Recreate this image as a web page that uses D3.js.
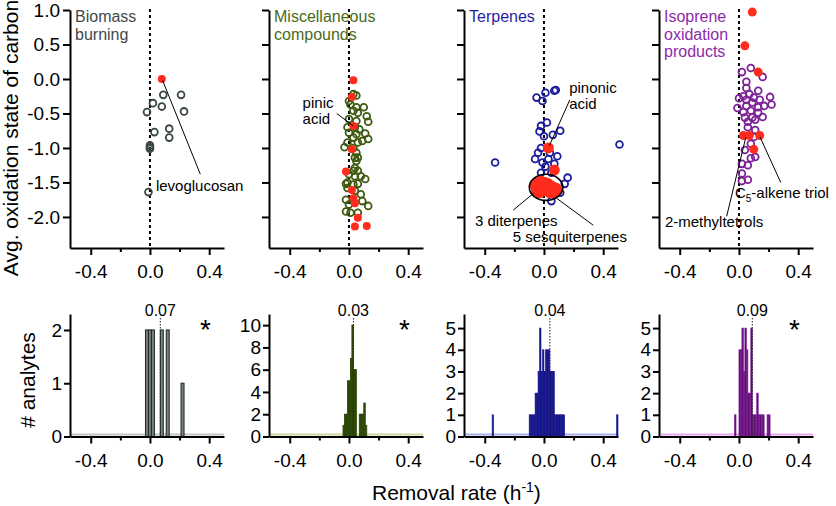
<!DOCTYPE html>
<html>
<head>
<meta charset="utf-8">
<script src="https://cdn.jsdelivr.net/npm/d3@7"></script>
<style>
  body { margin: 0; background: #fff; }
  svg { display: block; font-family: "Liberation Sans", Arial, sans-serif; }
</style>
</head>
<body>
<script>
// ---- data ----
const titleLines = [["Biomass", "burning"], ["Miscellaneous", "compounds"], ["Terpenes"], ["Isoprene", "oxidation", "products"]];
const medians = [0.07, 0.03, 0.04, 0.09];
const significant = [true, true, false, true];
const rateTicks = [-0.4, 0.0, 0.4];
const rateMinorTicks = [-0.2, 0.2];
const osTicks = [-2.0, -1.5, -1.0, -0.5, 0.0, 0.5, 1.0];
const countTicks = [[0, 1, 2], [0, 2, 4, 6, 8, 10], [0, 1, 2, 3, 4, 5], [0, 1, 2, 3, 4, 5]];
const countMax = [2.3, 11, 5.65, 5.65];
const binWidths = [0.02, 0.01, 0.01, 0.01];

// [removal rate, avg oxidation state]
const biomassOpen = [[0.09, -0.23], [0.21, -0.23], [0.02, -0.35], [0.08, -0.40], [-0.02, -0.48], [0.23, -0.47],
  [0.03, -0.77], [0.13, -0.72], [0.13, -0.85], [0.00, -0.96], [0.00, -0.99], [0.00, -1.01], [-0.01, -1.64]];
const biomassRed = [[0.08, 0.0]];

const miscOpen = [[0.03, -0.22], [0.05, -0.24], [0.00, -0.32], [0.01, -0.37], [0.05, -0.41], [0.10, -0.41], [0.03, -0.46],
  [0.06, -0.49], [0.12, -0.54], [0.00, -0.58], [0.05, -0.61], [0.13, -0.62], [-0.01, -0.70], [0.04, -0.70], [0.07, -0.73],
  [0.00, -0.78], [0.05, -0.80], [0.11, -0.79], [0.13, -0.87], [0.09, -0.90], [0.03, -0.85], [0.06, -0.92], [-0.01, -0.92],
  [-0.03, -0.99], [0.03, -1.00], [0.05, -1.07], [0.04, -1.14], [0.06, -1.14], [0.05, -1.19], [0.04, -1.29], [0.03, -1.33],
  [0.06, -1.33], [0.00, -1.38], [0.04, -1.41], [0.08, -1.41], [0.11, -1.45], [-0.01, -1.50], [0.03, -1.53], [0.06, -1.52],
  [-0.02, -1.52], [-0.01, -1.58], [0.04, -1.62], [0.08, -1.67], [-0.02, -1.75], [0.03, -1.77], [0.09, -1.77], [0.13, -1.84],
  [0.00, -1.82], [-0.02, -1.92], [0.01, -1.94], [0.06, -1.94]];
const miscRed = [[0.03, -0.02], [0.02, -0.26], [0.03, -0.68], [0.02, -1.02], [-0.02, -1.34], [0.02, -1.61], [0.03, -1.73],
  [0.04, -1.80], [0.06, -2.01], [0.04, -2.14], [0.12, -2.13]];

const terpOpen = [[0.01, -0.20], [0.07, -0.17], [0.08, -0.16], [-0.05, -0.27], [-0.01, -0.32], [-0.02, -0.68], [0.02, -0.63],
  [-0.03, -0.76], [0.11, -0.75], [0.00, -0.83], [0.06, -0.81], [-0.02, -1.00], [-0.33, -1.21], [0.51, -0.95], [-0.06, -1.16],
  [-0.01, -1.21], [0.03, -1.16], [0.09, -1.12], [0.07, -1.23], [0.01, -1.27], [-0.02, -1.36], [0.05, -1.36], [0.16, -1.43],
  [0.14, -1.52], [0.11, -1.65], [0.05, -1.77], [0.04, -1.07], [-0.04, -1.07]];
const terpRed = [[0.03, -1.00], [0.07, -1.32], [-0.06, -1.55], [-0.04, -1.50], [-0.02, -1.48], [0.01, -1.50], [0.03, -1.52],
  [0.05, -1.55], [0.08, -1.58], [0.09, -1.62], [-0.05, -1.62], [-0.03, -1.65], [0.01, -1.62], [0.04, -1.65], [0.07, -1.65],
  [0.00, -1.58], [0.03, -1.60]];

const isoOpen = [[0.08, 0.16], [0.02, 0.10], [0.16, 0.03], [0.05, -0.04], [0.05, -0.13], [0.13, -0.17], [0.03, -0.25],
  [0.07, -0.22], [0.10, -0.27], [0.21, -0.26], [0.00, -0.28], [0.05, -0.30], [0.14, -0.30], [0.09, -0.34], [0.22, -0.37],
  [-0.01, -0.42], [0.05, -0.39], [0.13, -0.41], [0.17, -0.39], [0.08, -0.46], [0.03, -0.48], [0.13, -0.49], [0.16, -0.55],
  [0.04, -0.56], [0.09, -0.56], [0.11, -0.59], [0.06, -0.62], [0.06, -0.70], [0.11, -0.74], [0.10, -0.84], [0.08, -0.94],
  [0.04, -1.03], [0.11, -1.13], [0.08, -1.15], [0.02, -1.23], [0.06, -1.25], [0.02, -1.37], [0.06, -1.46], [0.02, -1.48]];
const isoRed = [[0.09, 0.97], [0.04, 0.48], [0.13, 0.10], [0.03, -0.82], [0.07, -0.82], [0.14, -0.82], [0.10, -1.02]];

// histogram bins: [bin start, # analytes]
const biomassBins = [[-0.03, 2], [-0.01, 2], [0.01, 2], [0.07, 2], [0.11, 2], [0.21, 1]];
const miscBins = [[-0.04, 1], [-0.03, 2], [-0.02, 2], [-0.01, 5], [0.00, 5], [0.01, 7], [0.02, 10], [0.03, 6], [0.04, 6],
  [0.07, 2], [0.08, 2], [0.09, 2], [0.10, 3], [0.11, 1]];
const terpBins = [[-0.35, 1], [-0.10, 1], [-0.09, 1], [-0.08, 1], [-0.07, 1], [-0.06, 2], [-0.05, 2], [-0.04, 3], [-0.03, 5],
  [-0.02, 3], [-0.01, 4], [0.00, 3], [0.01, 4], [0.02, 4], [0.03, 4], [0.04, 3], [0.05, 3], [0.06, 3], [0.07, 1], [0.08, 1],
  [0.09, 1], [0.10, 1], [0.11, 1], [0.12, 1], [0.13, 1], [0.49, 1]];
const isoBins = [[-0.03, 1], [0.00, 4], [0.01, 4], [0.02, 5], [0.03, 3], [0.04, 5], [0.05, 4], [0.06, 2], [0.07, 2],
  [0.08, 5], [0.09, 1], [0.10, 1], [0.11, 1], [0.12, 2], [0.13, 1], [0.14, 1], [0.15, 1], [0.16, 1], [0.19, 1], [0.20, 1]];

// ---- layout / style ----
const width = 836;
const height = 506;
const panelLeft = [70, 269, 464, 659];
const panelWidth = 154;
const rateDomain = [-0.54, 0.5];
const colors = ["#3a4646", "#3d5a0f", "#1c1c9c", "#7d2196"];
const titleColors = ["#3c4a4a", "#4b6b19", "#1f1fa3", "#8e2aa8"];
const barFill = ["#7a8282", "#2e4808", "#16168c", "#5e0872"];
const barStroke = ["#253030", "#2e4808", "#16168c", "#7a2090"];
const barStrokeWidth = [1.1, 0.9, 0.6, 0.7];
const baseColor = ["#c4c4c4", "#c9d8a0", "#aab0ea", "#e6a8ec"];
const red = "#ff2b1c";
const redRadius = [4, 4, 5.5, 4.5];

const openSets = [biomassOpen, miscOpen, terpOpen, isoOpen];
const redSets = [biomassRed, miscRed, terpRed, isoRed];
const binSets = [biomassBins, miscBins, terpBins, isoBins];

const panels = titleLines.map((t, i) => ({
  left: panelLeft[i], title: t, open: openSets[i], red: redSets[i], bins: binSets[i],
  median: medians[i], star: significant[i]
}));

// annotation lines / labels, placed in data units of each panel
const annotations = [
  { panel: 0, lines: [[[0.085, -0.02], [0.34, -1.38]]], texts: [{ at: [0.04, -1.62], lines: ["levoglucosan"] }] },
  { panel: 1, lines: [[[-0.083, -0.50], [0.03, -0.68]]], texts: [{ at: [-0.313, -0.42], lines: ["pinic", "acid"] }] },
  { panel: 2, lines: [[[0.174, -0.305], [0.036, -0.97]], [[-0.207, -1.90], [-0.072, -1.66]], [[0.333, -2.12], [0.086, -1.73]]],
    texts: [{ at: [0.17, -0.20], lines: ["pinonic", "acid"] }, { at: [-0.466, -2.13], lines: ["3 diterpenes"] },
      { at: [-0.211, -2.36], lines: ["5 sesquiterpenes"] }],
    ellipse: { c: [0.014, -1.57], rx: 0.113, ry: 0.19 } },
  { panel: 3, lines: [[[0.282, -1.50], [0.142, -0.84]], [[-0.083, -1.99], [0.047, -0.84]]],
    texts: [{ at: [-0.027, -1.73], sub: true }, { at: [-0.5, -2.15], lines: ["2-methyltetrols"] }] }
];

const svg = d3.select("body").append("svg").attr("width", width).attr("height", height);

const osY = d3.scaleLinear().domain([-2.45, 1.0]).range([248, 10]);
const fmt1 = (d) => d.toFixed(1);

function styleAxis(g, size) {
  g.attr("font-family", null).attr("font-size", size);
  g.selectAll("path, line").attr("stroke", "#000").attr("stroke-width", 2);
  g.selectAll("text").attr("fill", "#000");
}

function drawXAxis(x, y0) {
  svg.append("g").attr("transform", `translate(0,${y0})`)
    .call(d3.axisBottom(x).tickValues(rateTicks).tickFormat(fmt1).tickSize(7).tickPadding(10).tickSizeOuter(0))
    .call((g) => styleAxis(g, 19));
  svg.append("g").attr("transform", `translate(0,${y0})`)
    .call(d3.axisBottom(x).tickValues(rateMinorTicks).tickFormat("").tickSize(4).tickSizeOuter(0))
    .call((g) => styleAxis(g, 19))
    .call((g) => g.select(".domain").remove());
}

panels.forEach((p, i) => {
  const x = d3.scaleLinear().domain(rateDomain).range([p.left, p.left + panelWidth]);

  // ---------- top: oxidation state vs removal rate ----------
  svg.append("line")
    .attr("x1", x(0)).attr("x2", x(0))
    .attr("y1", osY(1.0) - 1).attr("y2", osY(-2.45))
    .attr("stroke", "#000").attr("stroke-width", 2).attr("stroke-dasharray", "3,3");

  svg.append("g").selectAll("circle").data(p.open).join("circle")
    .attr("cx", (d) => x(d[0])).attr("cy", (d) => osY(d[1])).attr("r", 3.4)
    .attr("fill", "none").attr("stroke", colors[i]).attr("stroke-width", 1.8);

  svg.append("g").selectAll("circle").data(p.red).join("circle")
    .attr("cx", (d) => x(d[0])).attr("cy", (d) => osY(d[1])).attr("r", redRadius[i])
    .attr("fill", red);

  const t = svg.append("text").attr("fill", titleColors[i]).attr("font-size", 16);
  p.title.forEach((line, k) => {
    t.append("tspan").attr("x", p.left + 5).attr("y", 22 + k * 17.5).text(line);
  });

  drawXAxis(x, 248);
  svg.append("g").attr("transform", `translate(${p.left},0)`)
    .call(d3.axisLeft(osY).tickValues(osTicks).tickFormat(i === 0 ? fmt1 : "").tickSize(7).tickPadding(3).tickSizeOuter(0))
    .call((g) => styleAxis(g, 19));

  // ---------- bottom: histogram of removal rates ----------
  const yc = d3.scaleLinear().domain([0, countMax[i]]).range([436.5, 314]);
  const bw = binWidths[i];

  svg.append("line")
    .attr("x1", x(rateDomain[0])).attr("x2", x(rateDomain[1]))
    .attr("y1", yc(0) - 2).attr("y2", yc(0) - 2)
    .attr("stroke", baseColor[i]).attr("stroke-width", 2);

  svg.append("g").selectAll("rect").data(p.bins).join("rect")
    .attr("x", (d) => x(d[0])).attr("width", (d) => x(d[0] + bw) - x(d[0]))
    .attr("y", (d) => yc(d[1])).attr("height", (d) => yc(0) - yc(d[1]))
    .attr("fill", barFill[i]).attr("stroke", barStroke[i]).attr("stroke-width", barStrokeWidth[i]);

  svg.append("line")
    .attr("x1", x(p.median)).attr("x2", x(p.median))
    .attr("y1", 318).attr("y2", yc(0))
    .attr("stroke", "#222").attr("stroke-width", 1).attr("stroke-dasharray", "1.5,1.5");
  svg.append("text").attr("x", x(p.median)).attr("y", 316).attr("text-anchor", "middle")
    .attr("font-size", 16).text(p.median.toFixed(2));

  if (p.star) {
    svg.append("text").attr("x", x(0.375)).attr("y", 339).attr("text-anchor", "middle")
      .attr("font-size", 28).text("*");
  }

  drawXAxis(x, yc(0));
  svg.append("g").attr("transform", `translate(${p.left},0)`)
    .call(d3.axisLeft(yc).tickValues(countTicks[i]).tickFormat(d3.format("d")).tickSize(6).tickPadding(2).tickSizeOuter(0))
    .call((g) => styleAxis(g, 19));
});

// ---------- annotations ----------
annotations.forEach((a) => {
  const p = panels[a.panel];
  const x = d3.scaleLinear().domain(rateDomain).range([p.left, p.left + panelWidth]);
  const g = svg.append("g");
  a.lines.forEach(([s, e]) => {
    g.append("line").attr("x1", x(s[0])).attr("y1", osY(s[1])).attr("x2", x(e[0])).attr("y2", osY(e[1]))
      .attr("stroke", "#000").attr("stroke-width", 1);
  });
  if (a.ellipse) {
    const c = a.ellipse.c;
    g.append("ellipse").attr("cx", x(c[0])).attr("cy", osY(c[1]))
      .attr("rx", x(c[0] + a.ellipse.rx) - x(c[0])).attr("ry", osY(c[1] - a.ellipse.ry) - osY(c[1]))
      .attr("fill", "none").attr("stroke", "#000").attr("stroke-width", 1.6);
  }
  a.texts.forEach((tx) => {
    const t = g.append("text").attr("font-size", 15).attr("fill", "#000");
    if (tx.sub) {
      t.attr("x", x(tx.at[0])).attr("y", osY(tx.at[1]));
      t.append("tspan").text("C");
      t.append("tspan").attr("font-size", 10).attr("dy", 4).text("5");
      t.append("tspan").attr("dy", -4).text("-alkene triol");
    } else {
      tx.lines.forEach((line, k) => {
        t.append("tspan").attr("x", x(tx.at[0])).attr("y", osY(tx.at[1]) + k * 16).text(line);
      });
    }
  });
});

// ---------- axis titles ----------
svg.append("text").attr("transform", "translate(18,138) rotate(-90)").attr("text-anchor", "middle")
  .attr("font-size", 21).text("Avg. oxidation state of carbon");
svg.append("text").attr("transform", "translate(35,380) rotate(-90)").attr("text-anchor", "middle")
  .attr("font-size", 21).text("# analytes");
const xl = svg.append("text").attr("x", 372).attr("y", 500).attr("font-size", 21);
xl.append("tspan").text("Removal rate (h");
xl.append("tspan").attr("font-size", 14).attr("dy", -8).text("-1");
xl.append("tspan").attr("dy", 8).text(")");
</script>
</body>
</html>
